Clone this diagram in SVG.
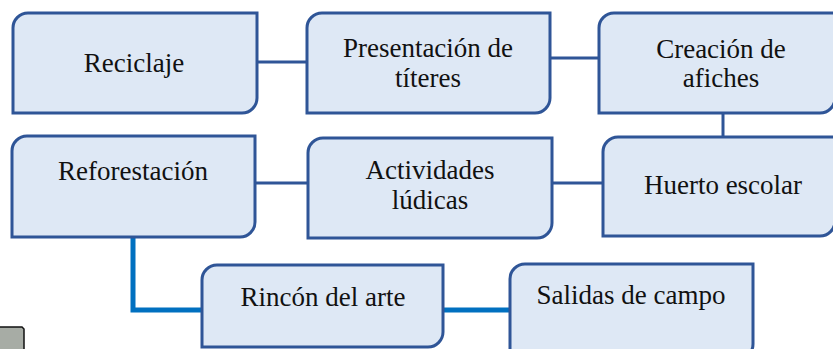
<svg xmlns="http://www.w3.org/2000/svg" width="833" height="349" viewBox="0 0 833 349">
<style>
.box{fill:#dee8f5;stroke:#2f5597;stroke-width:3}
.t{font-family:"Liberation Serif","Times New Roman",serif;font-size:27px;fill:#111;text-anchor:middle}
.c1{fill:none;stroke:#2f5597;stroke-width:3}
.c2{fill:none;stroke:#0070c0;stroke-width:5}
</style>
<rect width="833" height="349" fill="#fff"/>
<g id="connectors">
<line class="c1" x1="257" y1="62" x2="307" y2="62"/>
<line class="c1" x1="550" y1="58" x2="599" y2="58"/>
<line class="c1" x1="723" y1="113" x2="723" y2="137"/>
<line class="c1" x1="255" y1="183" x2="308" y2="183"/>
<line class="c1" x1="552" y1="183" x2="603" y2="183"/>
<polyline class="c2" points="133,237 133,310 202,310"/>
<line class="c2" x1="443" y1="310" x2="510" y2="310"/>
</g>
<g id="reciclaje">
<path class="box" d="M28,13 H257 V98 A15,15 0 0 1 242,113 H13 V28 A15,15 0 0 1 28,13 Z"/>
<text class="t" x="134" y="72">Reciclaje</text>
</g>
<g id="presentacion">
<path class="box" d="M322,13 H550 V98 A15,15 0 0 1 535,113 H307 V28 A15,15 0 0 1 322,13 Z"/>
<text class="t" x="428" y="57">Presentación de</text>
<text class="t" x="428" y="87">títeres</text>
</g>
<g id="afiches">
<path class="box" d="M614,13 H835 V98 A15,15 0 0 1 820,113 H599 V28 A15,15 0 0 1 614,13 Z"/>
<text class="t" x="721" y="58">Creación de</text>
<text class="t" x="721" y="87">afiches</text>
</g>
<g id="reforestacion">
<path class="box" d="M27,136 H255 V222 A15,15 0 0 1 240,237 H12 V151 A15,15 0 0 1 27,136 Z"/>
<text class="t" x="133" y="180">Reforestación</text>
</g>
<g id="actividades">
<path class="box" d="M323,138 H552 V223 A15,15 0 0 1 537,238 H308 V153 A15,15 0 0 1 323,138 Z"/>
<text class="t" x="430" y="179">Actividades</text>
<text class="t" x="430" y="209">lúdicas</text>
</g>
<g id="huerto">
<path class="box" d="M618,137 H835 V221 A15,15 0 0 1 820,236 H603 V152 A15,15 0 0 1 618,137 Z"/>
<text class="t" x="723" y="194">Huerto escolar</text>
</g>
<g id="rincon">
<path class="box" d="M217,265 H443 V332 A15,15 0 0 1 428,347 H202 V280 A15,15 0 0 1 217,265 Z"/>
<text class="t" x="323" y="306">Rincón del arte</text>
</g>
<g id="salidas">
<path class="box" d="M525,264 H753 V344 A15,15 0 0 1 738,359 H510 V279 A15,15 0 0 1 525,264 Z"/>
<text class="t" x="631" y="304">Salidas de campo</text>
</g>
<g id="marker-square">
<path d="M-1,327 H22 L24,329 V350 H-1 Z" fill="#a7aca5" stroke="#111" stroke-width="1.5"/>
</g>
</svg>
